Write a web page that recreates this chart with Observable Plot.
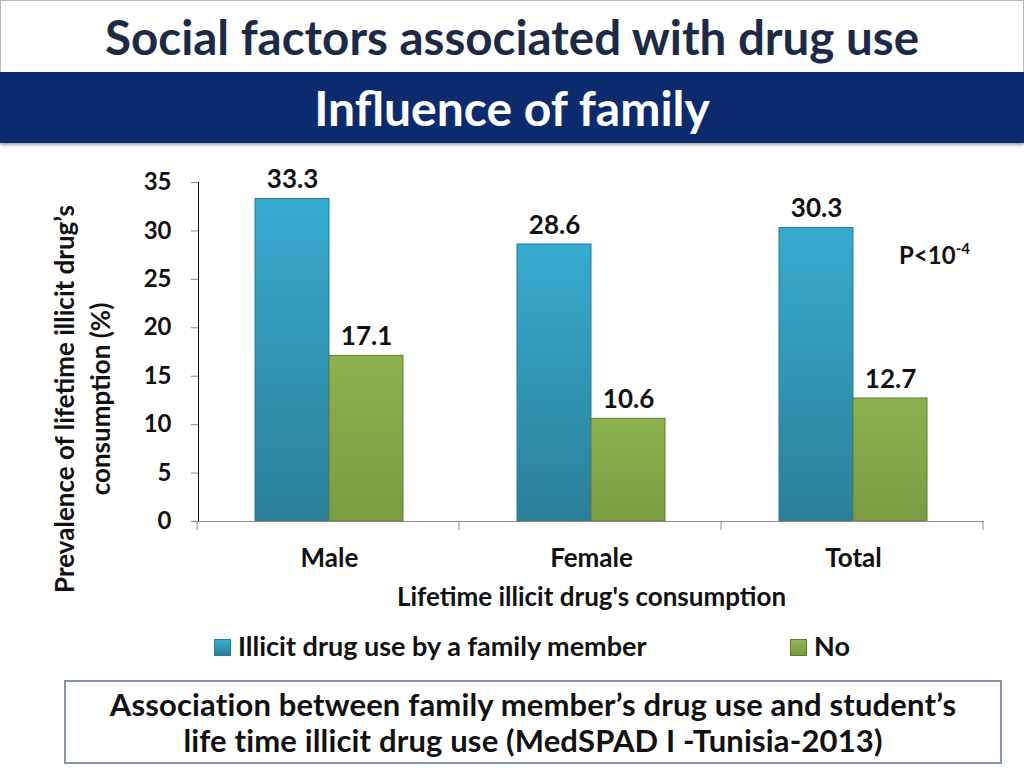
<!DOCTYPE html>
<html>
<head>
<meta charset="utf-8">
<script src="https://cdn.jsdelivr.net/npm/d3@7"></script>
<script src="https://cdn.jsdelivr.net/npm/@observablehq/plot@0.6"></script>
<style>
  html, body { margin: 0; padding: 0; background: #fff; }
  body { width: 1024px; height: 768px; position: relative; overflow: hidden; font-family: Lato, "Open Sans", sans-serif; }
  #title { position: absolute; left: 0; top: 0; width: 1022px; height: 71px; border: 1px solid #b8b8b8; border-bottom: none;
    text-align: center; font-weight: 700; font-size: 47.5px; line-height: 72px; color: #1c2a48; }
  #banner { position: absolute; left: 0; top: 72px; width: 1024px; height: 71px; background: #0c2a6e;
    box-shadow: 0 2px 3px rgba(0,0,0,0.35); text-align: center; color: #fff; font-weight: 700; font-size: 48px; line-height: 72px; }
  #chart { position: absolute; left: 0; top: 150px; }
  #pval { position: absolute; left: 899px; top: 240px; font-weight: 700; font-size: 24px; color: #111; }
  #pval sup { font-size: 15px; vertical-align: 10px; line-height: 0; }
  #legend { position: absolute; top: 631px; left: 0; width: 1024px; height: 30px; font-weight: 700; font-size: 27px; color: #111; }
  .item { position: absolute; top: 0; line-height: 30px; white-space: nowrap; }
  .sw { display: inline-block; width: 15px; height: 15px; vertical-align: 0px; margin-right: 7px; }
  #box { position: absolute; left: 64px; top: 680px; width: 934px; height: 80px; border: 2px solid #8792ad; background: #fff;
    text-align: center; font-weight: 700; font-size: 31px; line-height: 36px; color: #111; }
  #box div { padding-top: 4px; letter-spacing: 0.15px; }
  svg [aria-label="y-axis tick"] { stroke: #8c8c8c; }
  svg [aria-label="y-axis tick"] path { stroke: #8c8c8c; }
</style>
</head>
<body>
<div id="title">Social factors associated with drug use</div>
<div id="banner">Influence of family</div>
<div id="chart"></div>
<div id="pval">P&lt;10<sup>-4</sup></div>
<div id="legend">
  <span class="item" style="left:214px"><span class="sw" style="background:linear-gradient(#3aaed3,#2a7f99);border:1px solid #2a7a92"></span>Illicit drug use by a family member</span>
  <span class="item" style="left:790px"><span class="sw" style="background:linear-gradient(#93b655,#76983f);border:1px solid #5f7d32"></span>No</span>
</div>
<div id="box"><div>Association between family member’s drug use and student’s<br>life time illicit drug use (MedSPAD I -Tunisia-2013)</div></div>

<script>
// ---- data ----
const categories = ["Male", "Female", "Total"];
const seriesNames = ["Illicit drug use by a family member", "No"];
const familyUseValues = [33.3, 28.6, 30.3];
const noValues = [17.1, 10.6, 12.7];
const yTicks = [0, 5, 10, 15, 20, 25, 30, 35];
const xTitle = "Lifetime illicit drug's consumption";
const yTitleLines = ["Prevalence of lifetime illicit drug’s", "consumption (%)"];

const rows = [];
categories.forEach((c, i) => {
  rows.push({category: c, series: seriesNames[0], value: familyUseValues[i]});
  rows.push({category: c, series: seriesNames[1], value: noValues[i]});
});

const font = "Lato, 'Open Sans', sans-serif";

const chart = Plot.plot({
  width: 1024,
  height: 470,
  marginTop: 32,
  marginBottom: 99,
  marginLeft: 197,
  marginRight: 39,
  style: {fontFamily: font, fontWeight: 700, fontSize: "24px", color: "#111", background: "transparent"},
  fx: {domain: categories, padding: 0, label: null, tickSize: 0, tickPadding: 27, axis: "bottom"},
  x: {domain: seriesNames, paddingInner: 0, paddingOuter: 0.76, axis: null},
  y: {domain: [0, 35], ticks: yTicks, tickSize: 7, tickPadding: 20, label: null, line: true},
  color: {domain: seriesNames, range: ["url(#gBlue)", "url(#gGreen)"]},
  marks: [
    Plot.barY(rows, {fx: "category", x: "series", y: "value", fill: "series",
      stroke: d => d.series === seriesNames[0] ? "#2a7890" : "#5f7d32", strokeWidth: 1}),
    Plot.ruleY([0], {stroke: "#8c8c8c", strokeWidth: 1.2}),
    Plot.text(rows, {fx: "category", x: "series", y: "value", text: d => d.value.toFixed(1), dy: -19,
      fontSize: 26, fontWeight: 700, fill: "#111"}),
    Plot.text([xTitle], {frameAnchor: "bottom", lineAnchor: "middle", dy: 76, facet: "super", fontSize: 26, fontWeight: 700, fill: "#111"}),
    Plot.text([yTitleLines[0]], {frameAnchor: "left", textAnchor: "middle", lineAnchor: "middle", rotate: -90, dx: -133, dy: 47, facet: "super", fontSize: 26, fontWeight: 700, fill: "#111"}),
    Plot.text([yTitleLines[1]], {frameAnchor: "left", textAnchor: "middle", lineAnchor: "middle", rotate: -90, dx: -97, dy: 47, facet: "super", fontSize: 26, fontWeight: 700, fill: "#111"})
  ]
});

// gradients for bar fills
const svg = d3.select(chart);
const defs = svg.insert("defs", ":first-child");
const g1 = defs.append("linearGradient").attr("id", "gBlue").attr("x1", 0).attr("y1", 0).attr("x2", 0).attr("y2", 1);
g1.append("stop").attr("offset", "0%").attr("stop-color", "#37abd0");
g1.append("stop").attr("offset", "100%").attr("stop-color", "#2a7f99");
const g2 = defs.append("linearGradient").attr("id", "gGreen").attr("x1", 0).attr("y1", 0).attr("x2", 0).attr("y2", 1);
g2.append("stop").attr("offset", "0%").attr("stop-color", "#8db24f");
g2.append("stop").attr("offset", "100%").attr("stop-color", "#7a9c42");

// category tick labels font size
svg.selectAll('[aria-label="fx-axis tick label"]').attr("font-size", 26);

// category boundary ticks on the x axis (from the fx band scale)
const fxs = chart.scale("fx");
const yBase = chart.scale("y").apply(0);
const bounds = d3.range(categories.length + 1).map(i => fxs.range[0] + i * fxs.step);
svg.append("g").attr("stroke", "#8c8c8c").selectAll("line").data(bounds).join("line")
  .attr("x1", d => d).attr("x2", d => d).attr("y1", yBase).attr("y2", yBase + 9);

document.getElementById("chart").append(chart);
</script>
</body>
</html>
